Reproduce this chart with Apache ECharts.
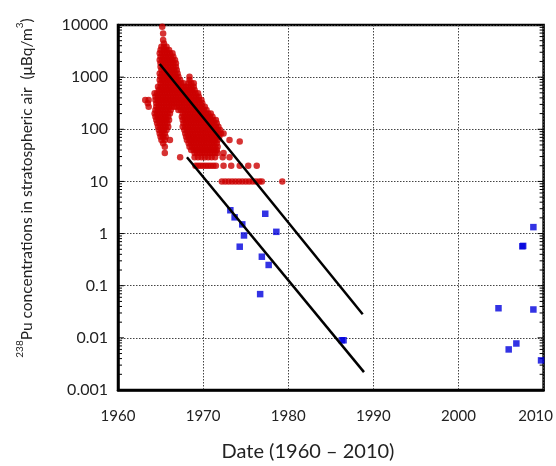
<!DOCTYPE html>
<html>
<head>
<meta charset="utf-8">
<script src="https://cdn.jsdelivr.net/npm/echarts@6/dist/echarts.min.js"></script>
<style>html,body{margin:0;padding:0;background:#fff}#c{width:556px;height:466px}</style>
</head>
<body>
<div id="c"></div>
<script>
// ---- data ----
var xTickLabels = ['1960','1970','1980','1990','2000','2010'];
var yTickLabels = ['0.001','0.01','0.1','1','10','100','1000','10000'];

// red measurements, grouped by concentration row: [value, [years]]
var redRows = [
  [9300, [1965.2]],
  [6900, [1965.3]],
  [5130, [1965.3]],
  [4400, [1965.4]],
  [3840, [1965.1, 1965.4, 1965.7]],
  [3310, [1965.0, 1965.4, 1965.7, 1966.0]],
  [2860, [1964.9, 1965.2, 1965.5, 1965.8, 1966.1, 1966.4]],
  [2470, [1965.0, 1965.3, 1965.6, 1965.9, 1966.2, 1966.5]],
  [2130, [1964.9, 1965.2, 1965.5, 1965.8, 1966.1, 1966.4, 1966.7]],
  [1840, [1965.0, 1965.3, 1965.6, 1965.9, 1966.2, 1966.5, 1966.8]],
  [1580, [1965.0, 1965.3, 1965.6, 1965.9, 1966.2, 1966.5, 1966.8]],
  [1370, [1965.1, 1965.4, 1965.7, 1966.0, 1966.3, 1966.6, 1966.9]],
  [1180, [1964.9, 1965.2, 1965.5, 1965.8, 1966.1, 1966.4, 1966.7, 1967.0]],
  [1020, [1965.0, 1965.3, 1965.6, 1965.9, 1966.2, 1966.5, 1966.8, 1967.1, 1968.4]],
  [880,  [1964.9, 1965.2, 1965.5, 1965.8, 1966.1, 1966.4, 1966.7, 1967.0, 1967.3, 1968.4]],
  [760,  [1965.0, 1965.3, 1965.6, 1965.9, 1966.2, 1966.5, 1966.8, 1967.1, 1967.4, 1967.7, 1968.3, 1968.6, 1968.9]],
  [655,  [1964.7, 1965.0, 1965.3, 1965.6, 1965.9, 1966.2, 1966.5, 1966.8, 1967.1, 1967.4, 1967.7, 1968.0, 1968.3, 1968.6, 1968.9]],
  [565,  [1964.8, 1965.1, 1965.4, 1965.7, 1966.0, 1966.3, 1966.6, 1966.9, 1967.2, 1967.5, 1967.8, 1968.1, 1968.4, 1968.7, 1969.0]],
  [490,  [1964.3, 1964.6, 1964.9, 1965.2, 1965.5, 1965.8, 1966.1, 1966.4, 1966.7, 1967.0, 1967.3, 1967.6, 1967.9, 1968.2, 1968.5, 1968.8, 1969.1, 1969.4]],
  [420,  [1964.4, 1964.7, 1965.0, 1965.3, 1965.6, 1965.9, 1966.2, 1966.5, 1966.8, 1967.1, 1967.4, 1967.7, 1968.0, 1968.3, 1968.6, 1968.9, 1969.2, 1969.5]],
  [365,  [1963.2, 1963.6, 1964.4, 1964.7, 1965.0, 1965.3, 1965.6, 1965.9, 1966.2, 1966.5, 1966.8, 1967.1, 1967.4, 1967.7, 1968.0, 1968.3, 1968.6, 1968.9, 1969.2, 1969.5, 1969.8]],
  [314,  [1963.5, 1964.5, 1964.8, 1965.1, 1965.4, 1965.7, 1966.0, 1966.3, 1966.6, 1966.9, 1967.2, 1967.5, 1967.8, 1968.1, 1968.4, 1968.7, 1969.0, 1969.3, 1969.6, 1969.9]],
  [270,  [1963.6, 1964.5, 1964.8, 1965.1, 1965.4, 1965.7, 1966.0, 1966.3, 1966.6, 1966.9, 1967.2, 1967.5, 1967.8, 1968.1, 1968.4, 1968.7, 1969.0, 1969.3, 1969.6, 1969.9, 1970.2]],
  [234,  [1964.4, 1964.7, 1965.0, 1965.3, 1965.6, 1965.9, 1966.2, 1967.1, 1967.4, 1967.7, 1968.0, 1968.3, 1968.6, 1968.9, 1969.2, 1969.5, 1969.8, 1970.1, 1970.4]],
  [200,  [1964.3, 1964.6, 1964.9, 1965.2, 1965.5, 1965.8, 1966.1, 1967.6, 1967.9, 1968.2, 1968.5, 1968.8, 1969.1, 1969.4, 1969.7, 1970.0, 1970.3, 1970.6, 1970.9]],
  [174,  [1964.4, 1964.7, 1965.0, 1965.3, 1965.6, 1965.9, 1967.5, 1967.8, 1968.1, 1968.4, 1968.7, 1969.0, 1969.3, 1969.6, 1969.9, 1970.2, 1970.5, 1970.8, 1971.1]],
  [150,  [1964.5, 1964.8, 1965.1, 1965.4, 1965.7, 1966.0, 1967.6, 1967.9, 1968.2, 1968.5, 1968.8, 1969.1, 1969.4, 1969.7, 1970.0, 1970.3, 1970.6, 1970.9, 1971.2, 1971.5]],
  [130,  [1964.6, 1964.9, 1965.2, 1965.5, 1965.8, 1967.7, 1968.0, 1968.3, 1968.6, 1968.9, 1969.2, 1969.5, 1969.8, 1970.1, 1970.4, 1970.7, 1971.0, 1971.3, 1971.6]],
  [112,  [1964.7, 1965.0, 1965.3, 1965.6, 1965.9, 1967.6, 1967.9, 1968.2, 1968.5, 1968.8, 1969.1, 1969.4, 1969.7, 1970.0, 1970.3, 1970.6, 1970.9, 1971.2, 1971.5, 1971.8]],
  [97,   [1964.8, 1965.1, 1965.4, 1965.7, 1967.8, 1968.1, 1968.4, 1968.7, 1969.0, 1969.3, 1969.6, 1969.9, 1970.2, 1970.5, 1970.8, 1971.1, 1971.4, 1971.7, 1972.0]],
  [83,   [1964.9, 1965.2, 1965.5, 1967.9, 1968.2, 1968.5, 1968.8, 1969.1, 1969.4, 1969.7, 1970.0, 1970.3, 1970.6, 1970.9, 1971.2, 1971.5, 1971.8, 1972.1, 1972.4]],
  [72,   [1965.0, 1965.3, 1965.6, 1968.0, 1968.3, 1968.6, 1968.9, 1969.2, 1969.5, 1969.8, 1970.1, 1970.4, 1970.7, 1971.0, 1971.3, 1971.6, 1971.9]],
  [62,   [1965.1, 1965.5, 1966.1, 1968.1, 1968.4, 1968.7, 1969.0, 1969.3, 1969.6, 1969.9, 1970.2, 1970.5, 1970.8, 1971.1, 1971.4, 1971.7, 1973.1]],
  [58,   [1974.3]],
  [54,   [1965.3, 1968.3, 1968.6, 1968.9, 1969.2, 1969.5, 1969.8, 1970.1, 1970.4, 1970.7, 1971.0, 1971.3, 1971.6]],
  [46,   [1965.5, 1968.4, 1968.7, 1969.0, 1969.3, 1969.6, 1969.9, 1970.2, 1970.5, 1970.8, 1971.1, 1971.4, 1971.7]],
  [40,   [1968.6, 1968.9, 1969.2, 1969.5, 1969.8, 1970.1, 1970.4, 1970.7, 1971.0, 1971.3, 1971.6]],
  [35,   [1965.5, 1969.0, 1969.3, 1969.6, 1969.9, 1970.2, 1970.5, 1970.8, 1971.1, 1971.4, 1971.7, 1972.4]],
  [29,   [1967.3, 1969.0, 1969.4, 1969.8, 1970.2, 1970.6, 1971.0, 1971.4, 1972.3, 1973.1]],
  [20,   [1969.1, 1969.4, 1969.7, 1970.0, 1970.3, 1970.6, 1970.9, 1971.2, 1971.5, 1972.4, 1973.3, 1974.3, 1975.3, 1976.3]],
  [10,   [1972.2, 1972.6, 1973.0, 1973.4, 1973.8, 1974.2, 1974.6, 1975.0, 1975.4, 1975.8, 1976.2, 1976.6, 1976.9, 1979.3]]
];

// blue measurements [year, value]
var bluePoints = [
  [1973.2, 2.8], [1973.7, 2.05], [1974.6, 1.5], [1974.8, 0.92], [1974.3, 0.56],
  [1977.3, 2.4], [1978.6, 1.08], [1976.9, 0.36], [1977.7, 0.25], [1976.7, 0.069],
  [1986.3, 0.009], [1986.5, 0.009],
  [2008.8, 1.33], [2007.5, 0.57], [2007.6, 0.58], [2004.7, 0.037], [2008.8, 0.035],
  [2006.8, 0.0078], [2005.9, 0.006], [2009.7, 0.0037]
];

// fitted decay lines
var fitLine1 = [[1964.9, 1780], [1988.75, 0.0284]];
var fitLine2 = [[1968.1, 29], [1988.9, 0.0022]];

// ---- build ----
var redPoints = [];
redRows.forEach(function (r) { r[1].forEach(function (yr) { redPoints.push([yr, r[0]]); }); });

var logTicks = [];
[0.001, 0.01, 0.1, 1, 10, 100, 1000].forEach(function (d) {
  [1,2,3,4,5,6,7,8,9].forEach(function (m) { logTicks.push([1960, d * m, m === 1 ? 1 : 0]); });
});
logTicks.push([1960, 10000, 1]);

var FONT = 'Lato, "Open Sans", sans-serif';
var chart = echarts.init(document.getElementById('c'), null, {renderer: 'canvas'});
chart.setOption({
  animation: false,
  backgroundColor: '#fff',
  grid: {left: 118, right: 12, top: 25, bottom: 76, show: true, borderColor: '#000', borderWidth: 2.5, backgroundColor: 'transparent'},
  xAxis: {
    type: 'value', min: 1960, max: 2010, interval: 10,
    axisLine: {show: true, lineStyle: {color: '#000', width: 2.5}},
    axisTick: {show: false},
    splitLine: {show: true, lineStyle: {color: '#444', type: [1.5, 1.5], width: 1}},
    axisLabel: {
      margin: 19, color: '#222', fontFamily: FONT, fontSize: 15,
      formatter: function (v, i) { return i === xTickLabels.length - 1 ? '{e|' + xTickLabels[i] + '}' : xTickLabels[i]; },
      rich: {e: {padding: [0, 16, 0, 0], fontFamily: FONT, fontSize: 15, color: '#222'}}
    }
  },
  yAxis: {
    type: 'log', logBase: 10, min: 0.001, max: 10000,
    axisLine: {show: true, lineStyle: {color: '#000', width: 2.5}},
    axisTick: {show: false},
    splitLine: {show: true, lineStyle: {color: '#444', type: [1.5, 1.5], width: 1}},
    axisLabel: {
      margin: 10, color: '#222', fontFamily: FONT, fontSize: 16,
      formatter: function (v, i) { return yTickLabels[i]; }
    }
  },
  graphic: [
    {type: 'text', x: 308, y: 452, style: {text: 'Date (1960 \u2013 2010)', font: '20px ' + FONT, fill: '#222', align: 'center', verticalAlign: 'middle'}},
    {type: 'text', x: 25, y: 188, rotation: Math.PI / 2,
     style: {text: '{s|238}{n|Pu concentrations in stratospheric air  (\u03bcBq/m}{s|3}{n|)}', align: 'center', verticalAlign: 'middle',
             rich: {n: {fontFamily: FONT, fontSize: 15.5, fill: '#222', verticalAlign: 'bottom', lineHeight: 20},
                    s: {fontFamily: FONT, fontSize: 10, fill: '#222', verticalAlign: 'top', lineHeight: 20, padding: [0, 0, 8, 0]}}}}
  ],
  series: [
    {
      type: 'custom', silent: true, z: 1, clip: false, data: logTicks,
      renderItem: function (params, api) {
        var v = api.value(1), major = api.value(2);
        var pL = api.coord([1960, v]), pR = api.coord([2010, v]);
        var len = major ? 6 : 4;
        var st = {stroke: '#000', lineWidth: 1};
        return {type: 'group', children: [
          {type: 'line', shape: {x1: pL[0], y1: pL[1], x2: pL[0] + len, y2: pL[1]}, style: st},
          {type: 'line', shape: {x1: pR[0], y1: pR[1], x2: pR[0] - len, y2: pR[1]}, style: st}
        ]};
      }
    },
    {type: 'scatter', data: redPoints, symbol: 'circle', symbolSize: 6.5, itemStyle: {color: '#cc0000'}, z: 2},
    {type: 'scatter', data: bluePoints, symbol: 'rect', symbolSize: 6.5, itemStyle: {color: '#0000dd'}, z: 3},
    {type: 'line', data: fitLine1, symbol: 'none', lineStyle: {color: '#000', width: 2.5}, z: 4},
    {type: 'line', data: fitLine2, symbol: 'none', lineStyle: {color: '#000', width: 2.5}, z: 4}
  ]
});
</script>
</body>
</html>
